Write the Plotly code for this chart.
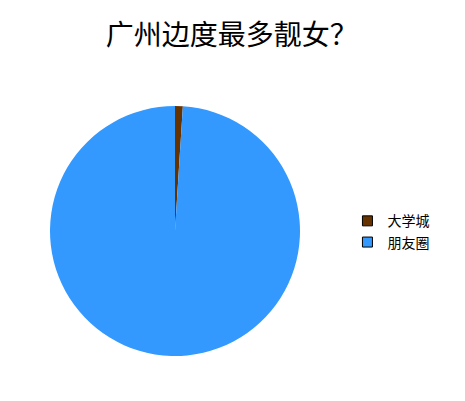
import plotly.graph_objects as go

labels = ["大学城", "朋友圈"]
values = [1, 99]
colors = ["#663300", "#3399ff"]

fig = go.Figure()

# the pie itself, no slice borders and no own legend
fig.add_trace(go.Pie(
    labels=labels,
    values=values,
    marker=dict(colors=colors, line=dict(width=0)),
    sort=False,
    direction="clockwise",
    rotation=0,
    textinfo="none",
    showlegend=False,
    domain=dict(x=[42 / 465, 292 / 465], y=[53 / 401, 303 / 401]),
))

# legend entries drawn with dummy scatter traces so the squares get a black edge
for name, col in zip(labels, colors):
    fig.add_trace(go.Scatter(
        x=[None], y=[None], mode="markers", name=name,
        marker=dict(symbol="square", size=10, color=col,
                    line=dict(color="black", width=1)),
    ))

fig.update_layout(
    width=465, height=401,
    margin=dict(l=0, r=0, t=0, b=0),
    paper_bgcolor="white",
    plot_bgcolor="white",
    title=dict(text="广州边度最多靓女？", x=0.481, xanchor="center", y=0.932, yanchor="middle",
               font=dict(family="Noto Sans CJK SC", size=28, color="black")),
    xaxis=dict(visible=False),
    yaxis=dict(visible=False),
    legend=dict(x=0.73, xanchor="left", y=0.442, yanchor="middle",
                font=dict(family="Noto Sans CJK SC", size=14, color="black"),
                itemwidth=30, tracegroupgap=0),
    font=dict(family="Noto Sans CJK SC"),
)

fig.write_html("out.html")
